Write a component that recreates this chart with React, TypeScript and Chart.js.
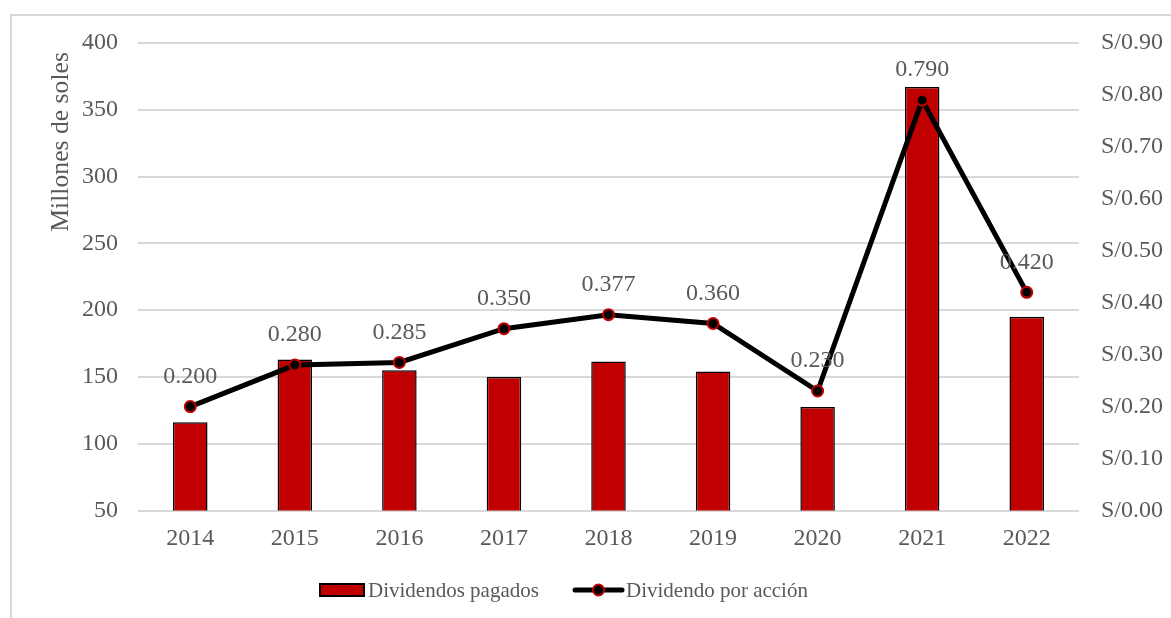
import React, { useEffect, useRef } from "react";
import { Chart, registerables } from "chart.js";

Chart.register(...registerables);

const years = ["2014", "2015", "2016", "2017", "2018", "2019", "2020", "2021", "2022"];
const dividendosPagados = [116, 163, 155, 150, 161.5, 154, 127.5, 367, 195];
const dividendoPorAccion = [0.2, 0.28, 0.285, 0.35, 0.377, 0.36, 0.23, 0.79, 0.42];
const perShareLabels = ["0.200", "0.280", "0.285", "0.350", "0.377", "0.360", "0.230", "0.790", "0.420"];
const leftAxisTitle = "Millones de soles";

const FONT = '"Liberation Serif", "Times New Roman", serif';
const TEXT = "#595959";
const RED = "#c00000";
const GRID = "#d9d9d9";

// Value labels above the per-share line points
const pointLabels = {
  id: "pointLabels",
  afterDatasetsDraw(chart: any) {
    const meta = chart.getDatasetMeta(1);
    const ctx = chart.ctx;
    ctx.save();
    ctx.font = `24px ${FONT}`;
    ctx.fillStyle = TEXT;
    ctx.textAlign = "center";
    ctx.textBaseline = "middle";
    meta.data.forEach((pt: any, i: number) => {
      ctx.fillText(perShareLabels[i], pt.x, pt.y - 30);
    });
    ctx.restore();
  },
};

// Rotated title of the left axis, placed near the top of the axis
const axisTitle = {
  id: "axisTitle",
  afterDraw(chart: any) {
    const ctx = chart.ctx;
    const area = chart.chartArea;
    ctx.save();
    ctx.font = `25.7px ${FONT}`;
    ctx.fillStyle = TEXT;
    ctx.textAlign = "right";
    ctx.textBaseline = "middle";
    ctx.translate(61, area.top + 9);
    ctx.rotate(-Math.PI / 2);
    ctx.fillText(leftAxisTitle, 0, 0);
    ctx.restore();
  },
};

// Legend row at the bottom of the canvas
const bottomLegend = {
  id: "bottomLegend",
  afterDraw(chart: any) {
    const ctx = chart.ctx;
    const y = 590;
    ctx.save();
    ctx.font = `21px ${FONT}`;
    ctx.fillStyle = TEXT;
    ctx.textBaseline = "middle";
    ctx.textAlign = "left";

    const bx = 320;
    ctx.fillStyle = RED;
    ctx.fillRect(bx, y - 6, 44, 12);
    ctx.lineWidth = 2;
    ctx.strokeStyle = "#000";
    ctx.strokeRect(bx, y - 6, 44, 12);
    ctx.fillStyle = TEXT;
    ctx.fillText(chart.data.datasets[0].label, bx + 48, y + 1);

    const lx = 575;
    ctx.beginPath();
    ctx.lineCap = "round";
    ctx.lineWidth = 5;
    ctx.strokeStyle = "#000";
    ctx.moveTo(lx, y);
    ctx.lineTo(lx + 47, y);
    ctx.stroke();
    ctx.beginPath();
    ctx.arc(lx + 23.5, y, 5.5, 0, Math.PI * 2);
    ctx.fillStyle = "#000";
    ctx.fill();
    ctx.lineWidth = 2;
    ctx.strokeStyle = RED;
    ctx.stroke();
    ctx.fillStyle = TEXT;
    ctx.fillText(chart.data.datasets[1].label, lx + 51, y + 1);
    ctx.restore();
  },
};

export default function App() {
  const canvasRef = useRef<HTMLCanvasElement | null>(null);

  useEffect(() => {
    if (!canvasRef.current) return;
    const tickFont = { family: FONT, size: 24 };
    const chart = new Chart(canvasRef.current, {
      type: "bar",
      data: {
        labels: years,
        datasets: [
          {
            type: "bar",
            label: "Dividendos pagados",
            data: dividendosPagados,
            backgroundColor: RED,
            borderColor: "#000",
            borderWidth: 1.5,
            barPercentage: 0.33,
            categoryPercentage: 1,
            yAxisID: "y",
            order: 2,
          },
          {
            type: "line",
            label: "Dividendo por acción",
            data: dividendoPorAccion,
            borderColor: "#000",
            borderWidth: 5,
            pointRadius: 5.5,
            pointBackgroundColor: "#000",
            pointBorderColor: RED,
            pointBorderWidth: 2,
            tension: 0,
            yAxisID: "y1",
            order: 1,
          },
        ],
      },
      options: {
        responsive: true,
        maintainAspectRatio: false,
        animation: false,
        layout: { padding: { top: 43, left: 0, right: 0, bottom: 0 } },
        plugins: {
          legend: { display: false },
          tooltip: { enabled: false },
        },
        scales: {
          x: {
            grid: { display: false, drawTicks: false },
            border: { display: false },
            ticks: { color: TEXT, font: tickFont, padding: 14 },
            afterFit: (s: any) => {
              s.height = 107.5;
            },
          },
          y: {
            position: "left",
            min: 50,
            max: 400,
            ticks: { stepSize: 50, color: TEXT, font: tickFont, padding: 20 },
            grid: { color: GRID, lineWidth: 2, drawTicks: false },
            border: { display: false },
            afterFit: (s: any) => {
              s.width = 138;
            },
          },
          y1: {
            position: "right",
            min: 0,
            max: 0.9,
            ticks: {
              stepSize: 0.1,
              color: TEXT,
              font: tickFont,
              padding: 22,
              callback: (v: any) => "S/" + Number(v).toFixed(2),
            },
            grid: { display: false, drawTicks: false },
            border: { display: false },
            afterFit: (s: any) => {
              s.width = 92;
            },
          },
        },
      },
      plugins: [pointLabels, axisTitle, bottomLegend],
    });
    return () => chart.destroy();
  }, []);

  return (
    <div style={{ position: "absolute", left: 0, top: 0, width: 1171, height: 618, background: "#fff", overflow: "hidden" }}>
      <div
        style={{
          position: "absolute",
          left: 10,
          top: 14,
          width: 1200,
          height: 700,
          borderLeft: `2px solid ${GRID}`,
          borderTop: `2px solid ${GRID}`,
        }}
      />
      <canvas ref={canvasRef} style={{ position: "absolute", left: 0, top: 0, width: 1171, height: 618 }} />
    </div>
  );
}
